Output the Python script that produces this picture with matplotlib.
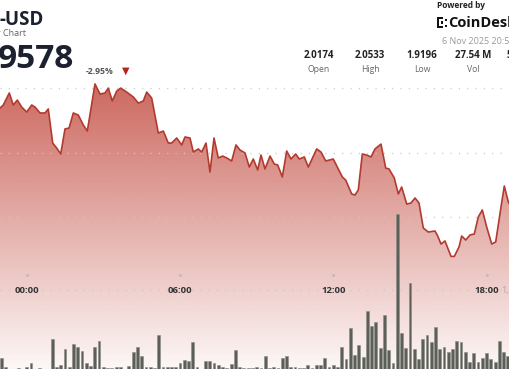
import numpy as np
import matplotlib
matplotlib.use("Agg")
import matplotlib.pyplot as plt
from matplotlib.patches import Rectangle

plt.rcParams['font.family'] = ['Open Sans', 'DejaVu Sans']

# price trace (hours after 00:00, price in USD)
price_hours = [-1.045, -0.916, -0.681, -0.524, -0.368, -0.196, 0.000, 0.196, 0.325, 0.521,
               0.716, 0.845, 1.018, 1.174, 1.331, 1.499, 1.656, 1.824, 2.020, 2.215,
               2.372, 2.673, 2.869, 3.065, 3.194, 3.350, 3.523, 3.679, 3.914, 4.172,
               4.368, 4.564, 4.697, 4.892, 5.151, 5.346, 5.542, 5.675, 5.871, 6.067,
               6.196, 6.391, 6.521, 6.716, 6.849, 7.018, 7.174, 7.331, 7.499, 7.671,
               7.828, 8.023, 8.192, 8.348, 8.544, 8.712, 8.869, 9.041, 9.170, 9.327,
               9.523, 9.691, 9.824, 10.004, 10.176, 10.344, 10.528, 10.669, 10.865, 11.022,
               11.350, 11.519, 11.703, 12.000, 12.352, 12.485, 12.720, 12.849, 12.978, 13.135,
               13.307, 13.476, 13.632, 13.867, 14.051, 14.180, 14.387, 14.544, 14.677, 14.873,
               15.041, 15.198, 15.354, 15.523, 15.718, 15.980, 16.086, 16.215, 16.372, 16.607,
               16.736, 16.920, 17.025, 17.182, 17.351, 17.519, 17.675, 17.832, 18.004, 18.200,
               18.356, 18.564, 18.693, 18.850, 18.916]
price = [2.0346, 2.0370, 2.0463, 2.0370, 2.0408, 2.0354, 2.0315, 2.0370, 2.0354, 2.0308,
         2.0308, 2.0339, 2.0075, 2.0036, 1.9990, 2.0184, 2.0191, 2.0308, 2.0292, 2.0215,
         2.0168, 2.0533, 2.0455, 2.0463, 2.0501, 2.0401, 2.0478, 2.0501, 2.0470, 2.0432,
         2.0385, 2.0401, 2.0470, 2.0424, 2.0153, 2.0168, 2.0075, 2.0075, 2.0114, 2.0060,
         2.0122, 2.0114, 2.0005, 2.0029, 2.0005, 2.0075, 1.9850, 2.0114, 1.9959, 1.9974,
         1.9959, 1.9936, 2.0060, 2.0021, 1.9998, 1.9889, 1.9951, 1.9866, 1.9982, 1.9874,
         1.9974, 1.9912, 1.9905, 1.9812, 2.0013, 1.9951, 1.9990, 1.9951, 1.9967, 1.9889,
         2.0029, 2.0005, 1.9936, 1.9951, 1.9812, 1.9788, 1.9680, 1.9672, 1.9711, 1.9990,
         1.9982, 1.9967, 2.0029, 2.0067, 1.9881, 1.9874, 1.9804, 1.9680, 1.9734, 1.9602,
         1.9610, 1.9649, 1.9610, 1.9416, 1.9385, 1.9393, 1.9354, 1.9292, 1.9316, 1.9196,
         1.9196, 1.9269, 1.9354, 1.9323, 1.9362, 1.9370, 1.9502, 1.9556, 1.9424, 1.9292,
         1.9308, 1.9579, 1.9742, 1.9618, 1.9595]

# 10 minute volume bars (thousands), first bar at 23:00 the day before
vol_start = -1.0
volume = [214, 46, 10, 10, 26, 10, 34, 114, 10, 26, 10, 10, 594, 46, 80, 394, 46, 500, 446, 366,
          126, 66, 434, 554, 46, 26, 14, 34, 34, 10, 66, 334, 434, 260, 34, 34, 26, 674, 34, 34,
          34, 46, 114, 180, 166, 540, 46, 10, 166, 166, 114, 80, 34, 14, 100, 380, 34, 14, 26, 20,
          46, 20, 260, 20, 34, 20, 214, 260, 34, 34, 20, 20, 86, 26, 80, 80, 214, 46, 80, 34,
          434, 194, 814, 286, 474, 234, 1166, 860, 946, 414, 1074, 380, 114, 3100, 726, 414, 1726, 394, 200, 606,
          674, 540, 834, 394, 446, 334, 394, 554, 534, 340, 146, 326, 146, 214, 314, 194, 146, 566, 346, 260]

tick_hours = [0, 6, 12, 18]
tick_labels = ['00:00', '06:00', '12:00', '18:00']
grid_prices = [2.05, 2.00, 1.95]

stat_values = ['2.0174', '2.0533', '1.9196', '27.54 M', '52.10 M']
stat_names = ['Open', 'High', 'Low', 'Vol', 'Vol $']

W, H = 510, 369
fig = plt.figure(figsize=(W / 100, H / 100), dpi=100)
fig.patch.set_facecolor('white')
ax = fig.add_axes([0, 0, 1, 1])
xmin, xmax = -1.045, 18.916
ymin, ymax = 1.8323, 2.1184
ax.set_xlim(xmin, xmax)
ax.set_ylim(ymin, ymax)
ax.axis('off')

# gradient fill under the price line
top = max(price)
n = 256
alpha = np.linspace(0.04, 0.78, n)
rgba = np.zeros((n, 2, 4))
rgba[..., 0] = 190 / 255
rgba[..., 1] = 62 / 255
rgba[..., 2] = 50 / 255
rgba[..., 3] = alpha[:, None]
poly = ax.fill_between(price_hours, price, ymin, facecolor='none', edgecolor='none')
im = ax.imshow(rgba, extent=[xmin, xmax, ymin, top], origin='lower', aspect='auto',
               interpolation='bilinear', zorder=1)
im.set_clip_path(poly.get_paths()[0], transform=ax.transData)

# dotted grid
for g in grid_prices:
    ax.axhline(g, color='#c8c8c8', lw=1.0, ls=(0, (0.8, 5.2)), zorder=2)
label_y = 1.8935
ax.axhline(label_y, color='#c8c8c8', lw=1.0, ls=(0, (0.8, 5.2)), zorder=2)
for h, lab in zip(tick_hours, tick_labels):
    ax.text(h, label_y, lab, ha='center', va='center', fontsize=6.8, fontweight='bold',
            color='#333333', zorder=3)
    ax.plot(h, label_y + 0.0115, marker='o', ms=1.0, color='#bbbbbb', zorder=3)
ax.text(xmax - 0.33, label_y, '1,0', ha='left', va='center', fontsize=6.5,
        color='#aaaaaa', zorder=3, clip_on=True)

# volume bars
vax = fig.add_axes([0, 0, 1, 1])
vax.set_xlim(xmin, xmax)
vax.set_ylim(0, 7380)
vax.axis('off')
vax.patch.set_visible(False)
vol_hours = vol_start + np.arange(len(volume)) / 6
vax.bar(vol_hours, volume, width=0.11, color='#5c5f58', edgecolor='#8a8d86', linewidth=0.4)

# price line on top
vax.plot(price_hours, price, color='#b23a2e', lw=1.2, transform=ax.transData,
         solid_joinstyle='round', zorder=5)


def px(x, y):
    return x / W, 1 - y / H


# header
fig.text(*px(-1, 20), '-USD', fontsize=13.5, fontweight='bold', color='#1c2130', va='center')
fig.text(*px(-3, 34), 'r Chart', fontsize=6.5, color='#666666', va='center')
fig.text(*px(-2, 60), '9578', fontsize=24, fontweight='bold', color='#1c2130', va='center')
fig.text(*px(86, 71), '-2.95%', fontsize=6.2, fontweight='bold', color='#555555', va='center')
fig.text(*px(126, 71), '\u25bc', fontsize=7, color='#b3261e', va='center', ha='center',
         family='DejaVu Sans')

fig.text(*px(437, 6), 'Powered by', fontsize=6, fontweight='bold', color='#222222', va='center')
fig.text(*px(448, 23), 'CoinDesk', fontsize=10.5, fontweight='bold', color='#111111', va='center')
for (rx, ry, rw, rh) in [(437, 17, 2, 11), (439, 17, 4, 2), (439, 26, 4, 2),
                         (441, 21.5, 2, 2), (445, 19, 2, 2), (445, 25, 2, 2)]:
    x0, y0 = px(rx, ry + rh)
    fig.add_artist(Rectangle((x0, y0), rw / W, rh / H, transform=fig.transFigure,
                             color='#111111', lw=0))
fig.text(*px(442, 41), '6 Nov 2025 20:55', fontsize=6.5, color='#999999', va='center')

stat_x = [319, 370, 422, 473, 525]
for sx, v, nm in zip(stat_x, stat_values, stat_names):
    fig.text(*px(sx, 55), v, fontsize=7, fontweight='bold', color='#222222',
             ha='center', va='center')
    fig.text(*px(sx, 69), nm, fontsize=6.2, color='#666666', ha='center', va='center')

fig.savefig('out.png', dpi=100, facecolor='white')
